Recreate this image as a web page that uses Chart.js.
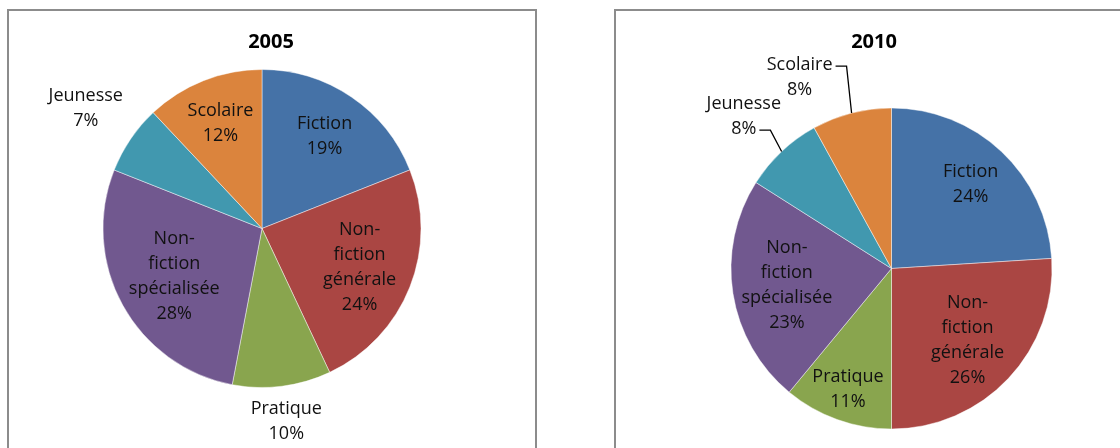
<!DOCTYPE html>
<html>
<head>
<meta charset="utf-8">
<script src="https://cdn.jsdelivr.net/npm/chart.js@4"></script>
<style>
  html, body { margin: 0; padding: 0; background: #fff; }
  body { width: 1120px; height: 448px; position: relative; overflow: hidden; }
  .box { position: absolute; border: 2px solid #8c8c8c; box-sizing: border-box; background: #fff; }
  canvas { position: absolute; left: 0; top: 0; }
</style>
</head>
<body>
<div class="box" style="left:7px; top:9px; width:530px; height:460px;"></div>
<div class="box" style="left:614px; top:9px; width:530px; height:460px;"></div>
<canvas id="chart-2005" width="1120" height="448"></canvas>
<canvas id="chart-2010" width="1120" height="448"></canvas>
<script>
// catégories dans l'ordre des secteurs (sens horaire depuis midi)
const categories = ["Fiction", "Non-fiction générale", "Pratique", "Non-fiction spécialisée", "Jeunesse", "Scolaire"];
const labelLines = [["Fiction"], ["Non-", "fiction", "générale"], ["Pratique"], ["Non-", "fiction", "spécialisée"], ["Jeunesse"], ["Scolaire"]];
const values2005 = [19, 24, 10, 28, 7, 12];
const values2010 = [24, 26, 11, 23, 8, 8];
const colors = ["#4572A7", "#AA4643", "#89A54E", "#71588F", "#4198AF", "#DB843D"];

const FONT = '"Open Sans", "DejaVu Sans", sans-serif';

// dessine les étiquettes (nom + %) et le titre
const pieLabels = {
  id: "pieLabels",
  afterDatasetsDraw(chart, args, opts) {
    const ctx = chart.ctx;
    const meta = chart.getDatasetMeta(0);
    const data = chart.data.datasets[0].data;
    const total = data.reduce((a, b) => a + b, 0);
    ctx.save();
    ctx.fillStyle = "#000";
    ctx.font = "bold 20px " + FONT;
    ctx.textAlign = "center";
    ctx.textBaseline = "middle";
    ctx.fillText(opts.title, opts.titleX, opts.titleY);

    ctx.font = "18px " + FONT;
    const lh = 25;
    meta.data.forEach((arc, i) => {
      const p = arc.getProps(["x", "y", "startAngle", "endAngle", "outerRadius"], true);
      const mid = (p.startAngle + p.endAngle) / 2;
      const a = mid + (opts.shift[i] * Math.PI) / 180;
      const d = p.outerRadius * opts.dist[i];
      const cx = p.x + Math.cos(a) * d;
      const cy = p.y + Math.sin(a) * d;
      const lines = labelLines[i].concat([Math.round(data[i] / total * 100) + "%"]);
      const y0 = cy - (lines.length - 1) * lh / 2;
      ctx.fillStyle = "#111";
      lines.forEach((t, k) => ctx.fillText(t, cx, y0 + k * lh));
      const leader = opts.leaders[i];
      if (leader) {
        const k = leader === "first" ? 0 : lines.length - 1;
        const w = ctx.measureText(lines[k]).width;
        const ly = y0 + k * lh + 1;
        const sx = cx + w / 2 + 3;
        const ex = p.x + Math.cos(mid) * p.outerRadius;
        const ey = p.y + Math.sin(mid) * p.outerRadius;
        ctx.strokeStyle = "#000";
        ctx.lineWidth = 1.3;
        ctx.beginPath();
        ctx.moveTo(sx, ly);
        ctx.lineTo(sx + 11, ly);
        ctx.lineTo(ex, ey);
        ctx.stroke();
      }
    });
    ctx.restore();
  },
};

function makePie(id, values, padding, labelOpts) {
  new Chart(document.getElementById(id), {
    type: "pie",
    data: {
      labels: categories,
      datasets: [
        {
          data: values,
          backgroundColor: colors,
          borderColor: "rgba(255, 255, 255, 0.45)",
          borderWidth: 1,
        },
      ],
    },
    options: {
      responsive: false,
      animation: false,
      layout: { padding },
      plugins: {
        legend: { display: false },
        tooltip: { enabled: false },
        title: { display: false },
        pieLabels: labelOpts,
      },
    },
    plugins: [pieLabels],
  });
}

makePie("chart-2005", values2005,
  { left: 102.5, right: 698.5, top: 69, bottom: 60 },
  { title: "2005", titleX: 271, titleY: 42,
    dist: [0.7, 0.66, 1.22, 0.63, 1.34, 0.71],
    shift: [0, 0, 0, 0, 0, 0],
    leaders: [null, null, null, null, null, null] });

makePie("chart-2010", values2010,
  { left: 730.5, right: 67.5, top: 107.5, bottom: 18.5 },
  { title: "2010", titleX: 874, titleY: 42,
    dist: [0.72, 0.65, 0.8, 0.66, 1.32, 1.32],
    shift: [0, 0, 0, 0, -1, -11.3],
    leaders: [null, null, null, null, "last", "first"] });
</script>
</body>
</html>
